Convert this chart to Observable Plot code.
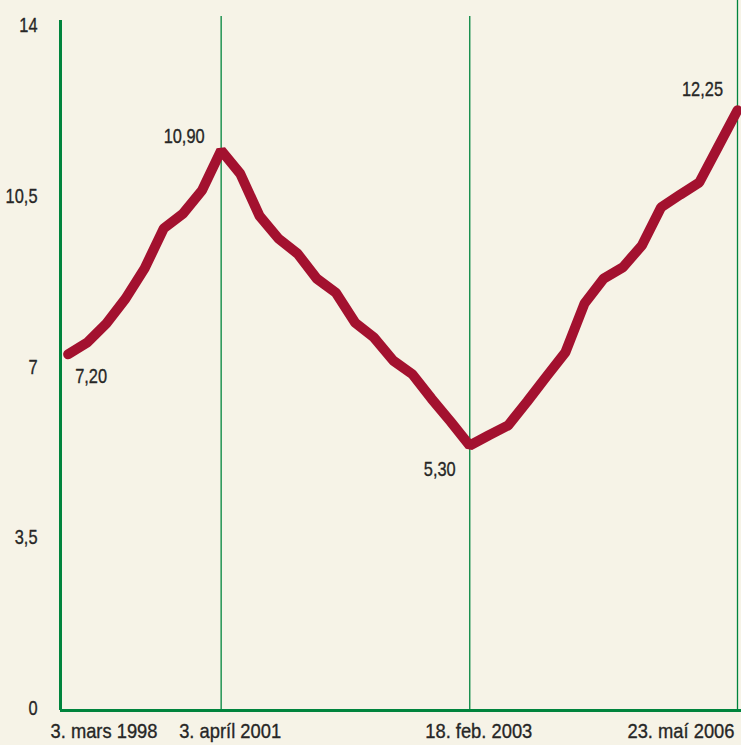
<!DOCTYPE html>
<html>
<head>
<meta charset="utf-8">
<script src="https://cdn.jsdelivr.net/npm/d3@7"></script>
<script src="https://cdn.jsdelivr.net/npm/@observablehq/plot@0.6"></script>
<style>
  html, body { margin: 0; padding: 0; background: #f6f3e7; }
  #chart { width: 741px; height: 745px; overflow: hidden; }
</style>
</head>
<body>
<div id="chart"></div>
<script>
// Values (index of observation, rate in %)
const values = [7.30, 7.54, 7.93, 8.44, 9.06, 9.88, 10.18, 10.66, 11.48,
  11.00, 10.14, 9.67, 9.36, 8.85, 8.56, 7.95, 7.64, 7.17, 6.89,
  6.39, 5.92, 5.43, 5.64, 5.84, 6.33, 6.84, 7.34, 8.34, 8.85,
  9.08, 9.53, 10.31, 10.57, 10.82, 11.56, 12.30];
const dateLabels = ["3. mars 1998", "3. apríl 2001", "18. feb. 2003", "23. maí 2006"];
const dateIndex = [-0.4, 8, 21, 35];
const yTicks = [0, 3.5, 7, 10.5, 14];
const annotIndex = [0, 8, 21, 35];
const annotText = ["7,20", "10,90", "5,30", "12,25"];

const data = values.map((v, i) => ({i, v}));
const green = "#00843d";
const red = "#a3112f";
const ink = "#262626";
const font = "'Liberation Sans', Arial, sans-serif";

const annots = annotIndex.map((idx, k) => ({i: idx, v: values[idx], t: annotText[k]}));
const annotOffsets = [[23, 22], [-37, -14], [-30, 24], [-35, -21]];
const txt = {fill: ink, fontSize: 21, stroke: ink, strokeWidth: 0.35};

const chart = Plot.plot({
  width: 741,
  height: 745,
  marginLeft: 60,
  marginRight: 4,
  marginTop: 20,
  marginBottom: 35,
  style: {background: "#f6f3e7", fontFamily: font, fontSize: "21px", color: ink, overflow: "visible"},
  x: {domain: [-0.4, 35], axis: null},
  y: {domain: [0, 14.14], axis: null},
  marks: [
    // vertical date lines
    Plot.ruleX(dateIndex.slice(1, 3), {y1: 0, y2: 14.22, stroke: green, strokeWidth: 1.3}),
    Plot.ruleX([dateIndex[3]], {y1: 0, y2: 14.6, stroke: green, strokeWidth: 1.3}),
    // left axis line
    Plot.ruleX([dateIndex[0]], {y1: 0, y2: 14.14, stroke: green, strokeWidth: 3}),
    // bottom axis line
    Plot.ruleY([0], {x1: dateIndex[0], x2: 35.3, stroke: green, strokeWidth: 3}),
    // y tick labels
    Plot.text(yTicks, {
      x: dateIndex[0], y: d => d, text: d => String(d).replace(".", ","),
      textAnchor: "end", dx: -23, dy: -2, ...txt
    }),
    // date labels
    Plot.text([0], {x: dateIndex[0], y: 0, text: () => dateLabels[0], textAnchor: "start", dx: -10, dy: 21, ...txt, className: "datelab"}),
    Plot.text([1, 2], {x: k => dateIndex[k], y: 0, text: k => dateLabels[k], textAnchor: "middle", dx: 9, dy: 21, ...txt, className: "datelab"}),
    Plot.text([3], {x: dateIndex[3], y: 0, text: () => dateLabels[3], textAnchor: "end", dx: -3, dy: 21, ...txt, className: "datelab"}),
    // line
    Plot.line(data, {x: "i", y: "v", stroke: red, strokeWidth: 10, strokeLinecap: "round", strokeLinejoin: "miter"}),
    // annotations
    ...annots.map((a, k) => Plot.text([a], {
      x: "i", y: "v", text: "t", textAnchor: "middle",
      dx: annotOffsets[k][0], dy: annotOffsets[k][1], ...txt
    }))
  ]
});
document.getElementById("chart").appendChild(chart);

// emulate the condensed typeface of the original by narrowing the glyphs
chart.querySelectorAll("text").forEach(t => {
  const isDate = t.closest(".datelab") !== null;
  const w = t.getComputedTextLength();
  if (w > 0) {
    t.setAttribute("textLength", (w * (isDate ? 0.873 : 0.78)).toFixed(2));
    t.setAttribute("lengthAdjust", "spacingAndGlyphs");
  }
});
</script>
</body>
</html>
